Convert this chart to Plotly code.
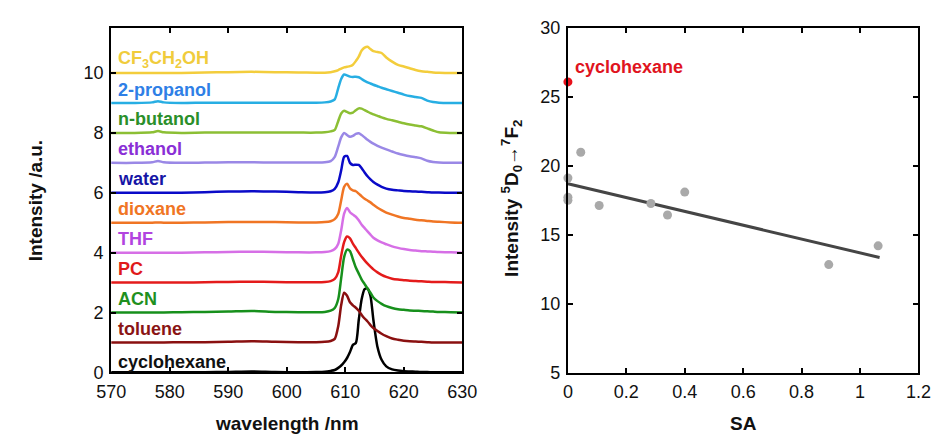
import numpy as np
import plotly.graph_objects as go

# ---------------- left panel: emission spectra ----------------
wavelength = [570, 574, 577, 578, 579, 582, 586, 590, 594, 598, 602, 605, 606.5, 607.5,
              608.2, 608.8, 609.3, 609.8, 610.3, 610.8, 611.3, 611.8, 612.3, 612.8, 613.3,
              613.8, 614.3, 614.8, 615.5, 616.2, 617, 618, 619, 620, 621, 622, 623, 624,
              625, 626, 628, 630]

solvents = ["cyclohexane", "toluene", "ACN", "PC", "THF", "dioxane", "water",
            "ethanol", "n-butanol", "2-propanol", "CF3CH2OH"]
label_texts = ["cyclohexane", "toluene", "ACN", "PC", "THF", "dioxane", "water",
               "ethanol", "n-butanol", "2-propanol", "CF<sub>3</sub>CH<sub>2</sub>OH"]
offsets = [0, 1, 2, 3, 4, 5, 6, 7, 8, 9, 10]

cyclohexane = [0, 0, 0, 0, 0, 0, 0.005, 0.015, 0.03, 0.01, 0.005, 0.01, 0.02, 0.05,
               0.08, 0.15, 0.23, 0.34, 0.48, 0.68, 0.92, 0.98, 1.75, 2.45, 2.78,
               2.8, 2.55, 1.75, 0.85, 0.42, 0.2, 0.1, 0.06, 0.04, 0.03, 0.02, 0.01, 0.01,
               0.005, 0, 0, 0]
toluene = [0, 0, 0, 0, 0, 0.005, 0.01, 0.02, 0.04, 0.02, 0.01, 0.01, 0.02, 0.05,
           0.12, 0.55, 1.25, 1.66, 1.56, 1.34, 1.24, 1.16, 1.06, 0.92, 0.8,
           0.7, 0.58, 0.48, 0.38, 0.29, 0.21, 0.13, 0.09, 0.06, 0.04, 0.03, 0.02, 0.01,
           0, 0, 0, 0]
acn = [0, 0, 0, 0, 0, 0.01, 0.02, 0.03, 0.05, 0.02, 0.01, 0.01, 0.02, 0.06,
       0.15, 0.45, 1.15, 1.85, 2.1, 2.05, 1.78, 1.5, 1.3, 1.1, 0.95,
       0.8, 0.66, 0.5, 0.38, 0.29, 0.21, 0.15, 0.11, 0.09, 0.07, 0.06, 0.05, 0.04,
       0.03, 0.02, 0.01, 0]
pc = [0, 0, 0, 0, 0, 0, 0.01, 0.02, 0.03, 0.02, 0.01, 0.01, 0.02, 0.05,
      0.12, 0.35, 0.9, 1.35, 1.54, 1.48, 1.3, 1.15, 1.0, 0.86, 0.74,
      0.63, 0.53, 0.44, 0.34, 0.26, 0.19, 0.13, 0.1, 0.08, 0.06, 0.05, 0.04, 0.03,
      0.02, 0.02, 0.01, 0]
thf = [0, 0, 0, 0, 0, 0, 0.01, 0.02, 0.03, 0.02, 0.01, 0.01, 0.02, 0.05,
       0.12, 0.3, 0.75, 1.3, 1.49, 1.35, 1.27, 1.2, 1.08, 0.93, 0.82,
       0.71, 0.6, 0.5, 0.41, 0.34, 0.28, 0.21, 0.16, 0.12, 0.09, 0.07, 0.05, 0.04,
       0.03, 0.02, 0.01, 0]
dioxane = [0, 0, 0, 0.01, 0, 0, 0.01, 0.02, 0.02, 0.02, 0.01, 0.01, 0.02, 0.05,
           0.12, 0.3, 0.75, 1.2, 1.3, 1.15, 1.08, 1.05, 0.97, 0.88, 0.8,
           0.74, 0.68, 0.6, 0.5, 0.42, 0.34, 0.27, 0.21, 0.16, 0.13, 0.1, 0.08, 0.06,
           0.04, 0.03, 0.01, 0]
water = [0, 0, 0, 0, 0, 0, 0.02, 0.04, 0.05, 0.04, 0.02, 0.01, 0.02, 0.05,
         0.13, 0.35, 0.75, 1.2, 1.23, 1.0, 0.93, 0.94, 0.93, 0.82, 0.68,
         0.55, 0.45, 0.36, 0.27, 0.2, 0.14, 0.1, 0.08, 0.06, 0.05, 0.04, 0.03, 0.02,
         0.01, 0.01, 0, 0]
ethanol = [0, 0, 0.02, 0.06, 0.02, 0, 0.01, 0.02, 0.02, 0.01, 0.01, 0.01, 0.02, 0.06,
           0.2, 0.55, 0.85, 1.0, 0.93, 0.87, 0.9, 0.97, 0.99, 0.93, 0.85,
           0.77, 0.7, 0.64, 0.57, 0.51, 0.45, 0.38, 0.31, 0.26, 0.22, 0.19, 0.15, 0.07,
           0.03, 0.01, 0, 0]
n_butanol = [0, 0, 0.02, 0.06, 0.02, 0, 0.01, 0.01, 0.01, 0.01, 0.01, 0.01, 0.02, 0.05,
             0.1, 0.4, 0.65, 0.74, 0.7, 0.66, 0.68, 0.76, 0.82, 0.81, 0.76,
             0.71, 0.66, 0.62, 0.57, 0.52, 0.47, 0.42, 0.37, 0.32, 0.28, 0.25, 0.22, 0.15,
             0.08, 0.02, 0, 0]
propanol_2 = [0, 0, 0.02, 0.06, 0.02, 0, 0.01, 0.01, 0.01, 0.01, 0.01, 0.01, 0.02, 0.05,
              0.12, 0.5, 0.8, 0.95, 0.92, 0.88, 0.87, 0.88, 0.86, 0.8, 0.74,
              0.69, 0.65, 0.61, 0.56, 0.51, 0.46, 0.4, 0.34, 0.28, 0.23, 0.2, 0.17, 0.08,
              0.03, 0.01, 0, 0]
cf3ch2oh = [0, 0, 0, 0, 0, 0, 0.02, 0.03, 0.04, 0.03, 0.02, 0.01, 0.01, 0.03,
            0.06, 0.1, 0.15, 0.19, 0.21, 0.23, 0.28, 0.4, 0.55, 0.75, 0.85,
            0.88, 0.8, 0.73, 0.7, 0.67, 0.52, 0.38, 0.27, 0.22, 0.16, 0.1, 0.06, 0.04,
            0.02, 0.01, 0, 0]

spectra = [cyclohexane, toluene, acn, pc, thf, dioxane, water,
           ethanol, n_butanol, propanol_2, cf3ch2oh]

line_colors = ["#000000", "#8a1010", "#17901c", "#e41b1b", "#d66fe6", "#f07524",
               "#0a0ac8", "#9a88e6", "#8cbf34", "#27aee3", "#f3cd3c"]
label_colors = ["#111111", "#8a1414", "#1f9020", "#e01a1a", "#b244e0", "#f07524",
                "#1515a5", "#8a2fd6", "#2a8f2a", "#2f7fe6", "#f0cc3c"]

# ---------------- right panel: intensity vs SA ----------------
sa_gray = [0.044, 0.0, 0.0, 0.0, 0.107, 0.284, 0.341, 0.40, 0.893, 1.062]
int_gray = [21.0, 19.13, 17.74, 17.51, 17.14, 17.28, 16.45, 18.11, 12.85, 14.21]
sa_cyclohexane = [0.0]
int_cyclohexane = [26.1]

FONT = "Liberation Sans, Arial, Helvetica, sans-serif"
W, H = 947, 443

fig = go.Figure()

for name, ys, off, col in zip(solvents, spectra, offsets, line_colors):
    fig.add_trace(go.Scatter(
        x=wavelength, y=[v + off for v in ys], mode="lines", name=name,
        line=dict(color=col, width=2.5, shape="spline", smoothing=0.7),
        xaxis="x", yaxis="y", showlegend=False, hoverinfo="skip"))

# linear fit through the gray points
slope, intercept = np.polyfit(sa_gray, int_gray, 1)
fit_x = np.array([0.0, max(sa_gray) + 0.005])
fig.add_trace(go.Scatter(
    x=fit_x, y=slope * fit_x + intercept, mode="lines",
    line=dict(color="#454545", width=3), xaxis="x2", yaxis="y2",
    showlegend=False, hoverinfo="skip"))
fig.add_trace(go.Scatter(
    x=sa_gray, y=int_gray, mode="markers",
    marker=dict(color="#a9a9a9", size=9), xaxis="x2", yaxis="y2",
    showlegend=False, cliponaxis=False))
fig.add_trace(go.Scatter(
    x=sa_cyclohexane, y=int_cyclohexane, mode="markers",
    marker=dict(color="#e8101a", size=9), xaxis="x2", yaxis="y2",
    showlegend=False, cliponaxis=False))

axis_common = dict(
    showline=True, linecolor="black", linewidth=2, mirror="ticks",
    ticks="inside", ticklen=5, tickwidth=1.5, tickcolor="black",
    showgrid=False, zeroline=False,
    tickfont=dict(family=FONT, size=18, color="#111111"),
)

annotations = []
for txt, off, col in zip(label_texts, offsets, label_colors):
    annotations.append(dict(
        x=570.9, y=off + (0.33 if off == 0 else 0.45), xref="x", yref="y",
        text="<b>%s</b>" % txt, showarrow=False, xanchor="left", yanchor="middle",
        font=dict(family=FONT, size=18, color=col)))

annotations += [
    dict(x=281 / W, y=1 - 433 / H, xref="paper", yref="paper", text="<b>wavelength /nm</b>",
         showarrow=False, xanchor="center", yanchor="middle",
         font=dict(family=FONT, size=19, color="#111111")),
    dict(x=22 / W, y=1 - 200 / H, xref="paper", yref="paper", text="<b>Intensity /a.u.</b>",
         showarrow=False, textangle=-90, xanchor="center", yanchor="middle",
         font=dict(family=FONT, size=19, color="#111111")),
    dict(x=752 / W, y=1 - 433 / H, xref="paper", yref="paper", text="<b>SA</b>",
         showarrow=False, xanchor="center", yanchor="middle",
         font=dict(family=FONT, size=19, color="#111111")),
    dict(x=512 / W, y=1 - 197 / H, xref="paper", yref="paper",
         text="<b>Intensity <sup>5</sup>D<sub>0</sub>\u2192<sup>7</sup>F<sub>2</sub></b>",
         showarrow=False, textangle=-90, xanchor="center", yanchor="middle",
         font=dict(family=FONT, size=19, color="#111111")),
    dict(x=0.016, y=27.2, xref="x2", yref="y2", text="<b>cyclohexane</b>",
         showarrow=False, xanchor="left", yanchor="middle",
         font=dict(family=FONT, size=18, color="#e0141e")),
]

fig.update_layout(
    width=W, height=H,
    margin=dict(l=0, r=0, t=0, b=0),
    paper_bgcolor="white", plot_bgcolor="white",
    font=dict(family=FONT, color="#111111"),
    xaxis=dict(domain=[99.3 / W, 462 / W], range=[570, 630],
               tickvals=[570, 580, 590, 600, 610, 620, 630],
               anchor="y", ticklabelstandoff=2, **axis_common),
    yaxis=dict(domain=[1 - 379.5 / H, 1 - 19 / H], range=[0, 11.5],
               tickvals=[0, 2, 4, 6, 8, 10],
               anchor="x", ticklabelstandoff=2, **axis_common),
    xaxis2=dict(domain=[571 / W, 933 / W], range=[0, 1.2],
                tickvals=[0, 0.2, 0.4, 0.6, 0.8, 1, 1.2],
                ticktext=["0", "0.2", "0.4", "0.6", "0.8", "1", "1.2"],
                anchor="y2", ticklabelstandoff=2, **axis_common),
    yaxis2=dict(domain=[1 - 380 / H, 1 - 19 / H], range=[5, 30],
                tickvals=[5, 10, 15, 20, 25, 30],
                anchor="x2", ticklabelstandoff=2, **axis_common),
    annotations=annotations,
)

fig.write_html("out.html")
